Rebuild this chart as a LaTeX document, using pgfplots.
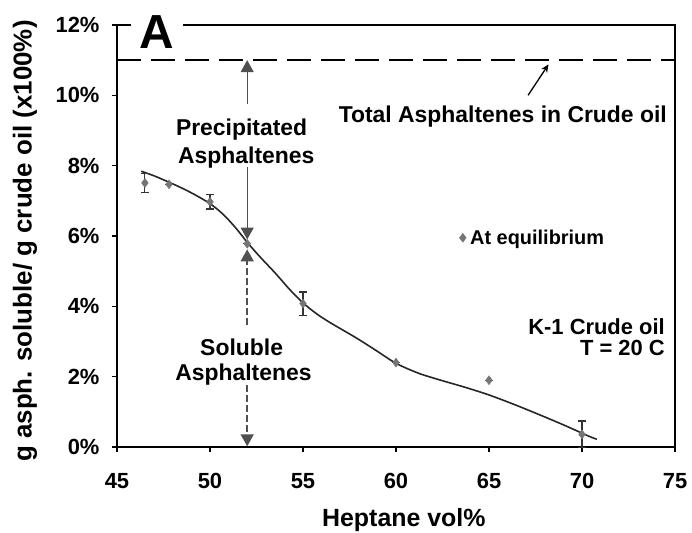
\documentclass[border=0pt]{standalone}
\usepackage{fontspec}
\setmainfont{Liberation Sans}
\usepackage{pgfplots}
\pgfplotsset{compat=1.18}
\usetikzlibrary{arrows.meta,calc}
\definecolor{mk}{HTML}{757575}
\definecolor{ar}{HTML}{505050}
\begin{document}
\begin{tikzpicture}
\begin{axis}[
 name=ax, at={(0,0)}, anchor=south west,
 scale only axis, width=558bp, height=422bp,
 xmin=45, xmax=75, ymin=0, ymax=12,
 xtick={45,50,...,75}, ytick={0,2,...,12},
 xtick pos=bottom, ytick pos=left,
 yticklabels={0\%,2\%,4\%,6\%,8\%,10\%,12\%},
 tick align=outside, major tick length=5bp,
 axis line style={line width=1.8bp},
 every tick/.style={line width=1.5bp, black},
 ticklabel style={font=\fontsize{22}{26}\selectfont\bfseries},
 xticklabel style={yshift=-18bp},
 yticklabel style={xshift=-9bp},
 /pgf/number format/assume math mode=true,
 xlabel={Heptane vol\%},
 ylabel={g asph. soluble/ g crude oil (x100\%)},
 every axis x label/.style={at={(axis description cs:0.514,-0.173)},anchor=center,
   font=\fontsize{25}{30}\selectfont\bfseries},
 every axis y label/.style={at={(axis description cs:-0.165,0.488)},rotate=90,anchor=center,
   font=\fontsize{26}{30}\selectfont\bfseries},
 clip=false,
 legend style={draw=none, fill=none, at={(axis cs:63.4,5.93)}, anchor=west,
   font=\fontsize{20}{24}\selectfont\bfseries, inner sep=0pt, nodes={inner xsep=4bp}},
 legend image code/.code={\draw[#1] plot coordinates {(3bp,0)};},
]
% dashed total line
\addplot[black, line width=1.8bp, dash pattern=on 24bp off 10bp, forget plot] coordinates {(45,11) (75,11)};
% fitted curve
\addplot[black!85, line width=1.6bp, smooth, forget plot] coordinates {
(46.3,7.84) (47,7.71) (47.75,7.54) (48.5,7.36) (49.2,7.17) (50,6.92) (50.7,6.62)
(51.4,6.22) (52,5.82) (52.7,5.4) (53.5,4.95) (54.3,4.47) (55,4.1) (55.7,3.8)
(56.45,3.54) (57.9,3.09) (59,2.72) (60,2.38) (61.2,2.1) (62.4,1.9) (63.7,1.7)
(65,1.48) (66.4,1.2) (67.7,0.92) (69,0.63) (70.4,0.3) (70.8,0.22)};
% data
\addplot[only marks, mark=diamond*, mark size=4.5bp, mk, mark options={fill=mk, draw=mk},
  error bars/.cd, y dir=both, y explicit,
  error bar style={line width=1.2bp, black!80},
  error mark options={rotate=90, mark size=4bp, line width=1.2bp, black!80}]
 table[x=x, y=y, y error=e] {
x y e
46.5 7.51 0.27
47.8 7.47 0
50 6.97 0.2
52 5.78 0
55 4.08 0.33
60 2.4 0
65 1.9 0
70 0.36 0.38
};
\addlegendentry{At equilibrium}
% arrows
\draw[ar, line width=1.3bp, -{Triangle[width=13bp,length=12bp]}] (axis cs:52,9.75) -- (axis cs:52,11);
\draw[ar, line width=1.3bp, -{Triangle[width=13bp,length=12bp]}] (axis cs:52,7.97) -- (axis cs:52,5.9);
\draw[ar, line width=1.6bp, dash pattern=on 7bp off 3bp, -{Triangle[width=13bp,length=12bp]}] (axis cs:52,3.47) -- (axis cs:52,5.62);
\draw[ar, line width=1.6bp, dash pattern=on 7bp off 3bp, -{Triangle[width=13bp,length=12bp]}] (axis cs:52,1.75) -- (axis cs:52,0.02);
\draw[black, line width=1.3bp, -{Stealth[width=7bp,length=8bp]}] (axis cs:67.1,10.0) -- (axis cs:68.2,10.88);
% texts
\node[anchor=base east, inner sep=0pt, font=\fontsize{23}{27}\selectfont\bfseries] at (axis cs:74.57,9.23) {Total Asphaltenes in Crude oil};
\node[anchor=base, inner sep=0pt, font=\fontsize{23}{27}\selectfont\bfseries] at (axis cs:51.7,8.86) {Precipitated};
\node[anchor=base, inner sep=0pt, font=\fontsize{23}{27}\selectfont\bfseries] at (axis cs:51.95,8.07) {Asphaltenes};
\node[anchor=base, inner sep=0pt, font=\fontsize{23}{27}\selectfont\bfseries] at (axis cs:51.7,2.61) {Soluble};
\node[anchor=base, inner sep=0pt, font=\fontsize{23}{27}\selectfont\bfseries] at (axis cs:51.8,1.9) {Asphaltenes};
\node[anchor=base east, inner sep=0pt, font=\fontsize{22}{26}\selectfont\bfseries] at (axis cs:74.46,3.2) {K-1 Crude oil};
\node[anchor=base east, inner sep=0pt, font=\fontsize{22}{26}\selectfont\bfseries] at (axis cs:74.46,2.6) {T = 20 C};
\coordinate (Apos) at (axis cs:47.15,11.33);
\end{axis}
\node[fill=white, inner xsep=9bp, inner ysep=1bp, anchor=base, font=\fontsize{48}{50}\selectfont\bfseries] at (Apos) {A};
\pgfresetboundingbox
\path ($(ax.south west)+(-117bp,-86bp)$) rectangle ($(ax.north east)+(17bp,25bp)$);
\end{tikzpicture}
\end{document}
